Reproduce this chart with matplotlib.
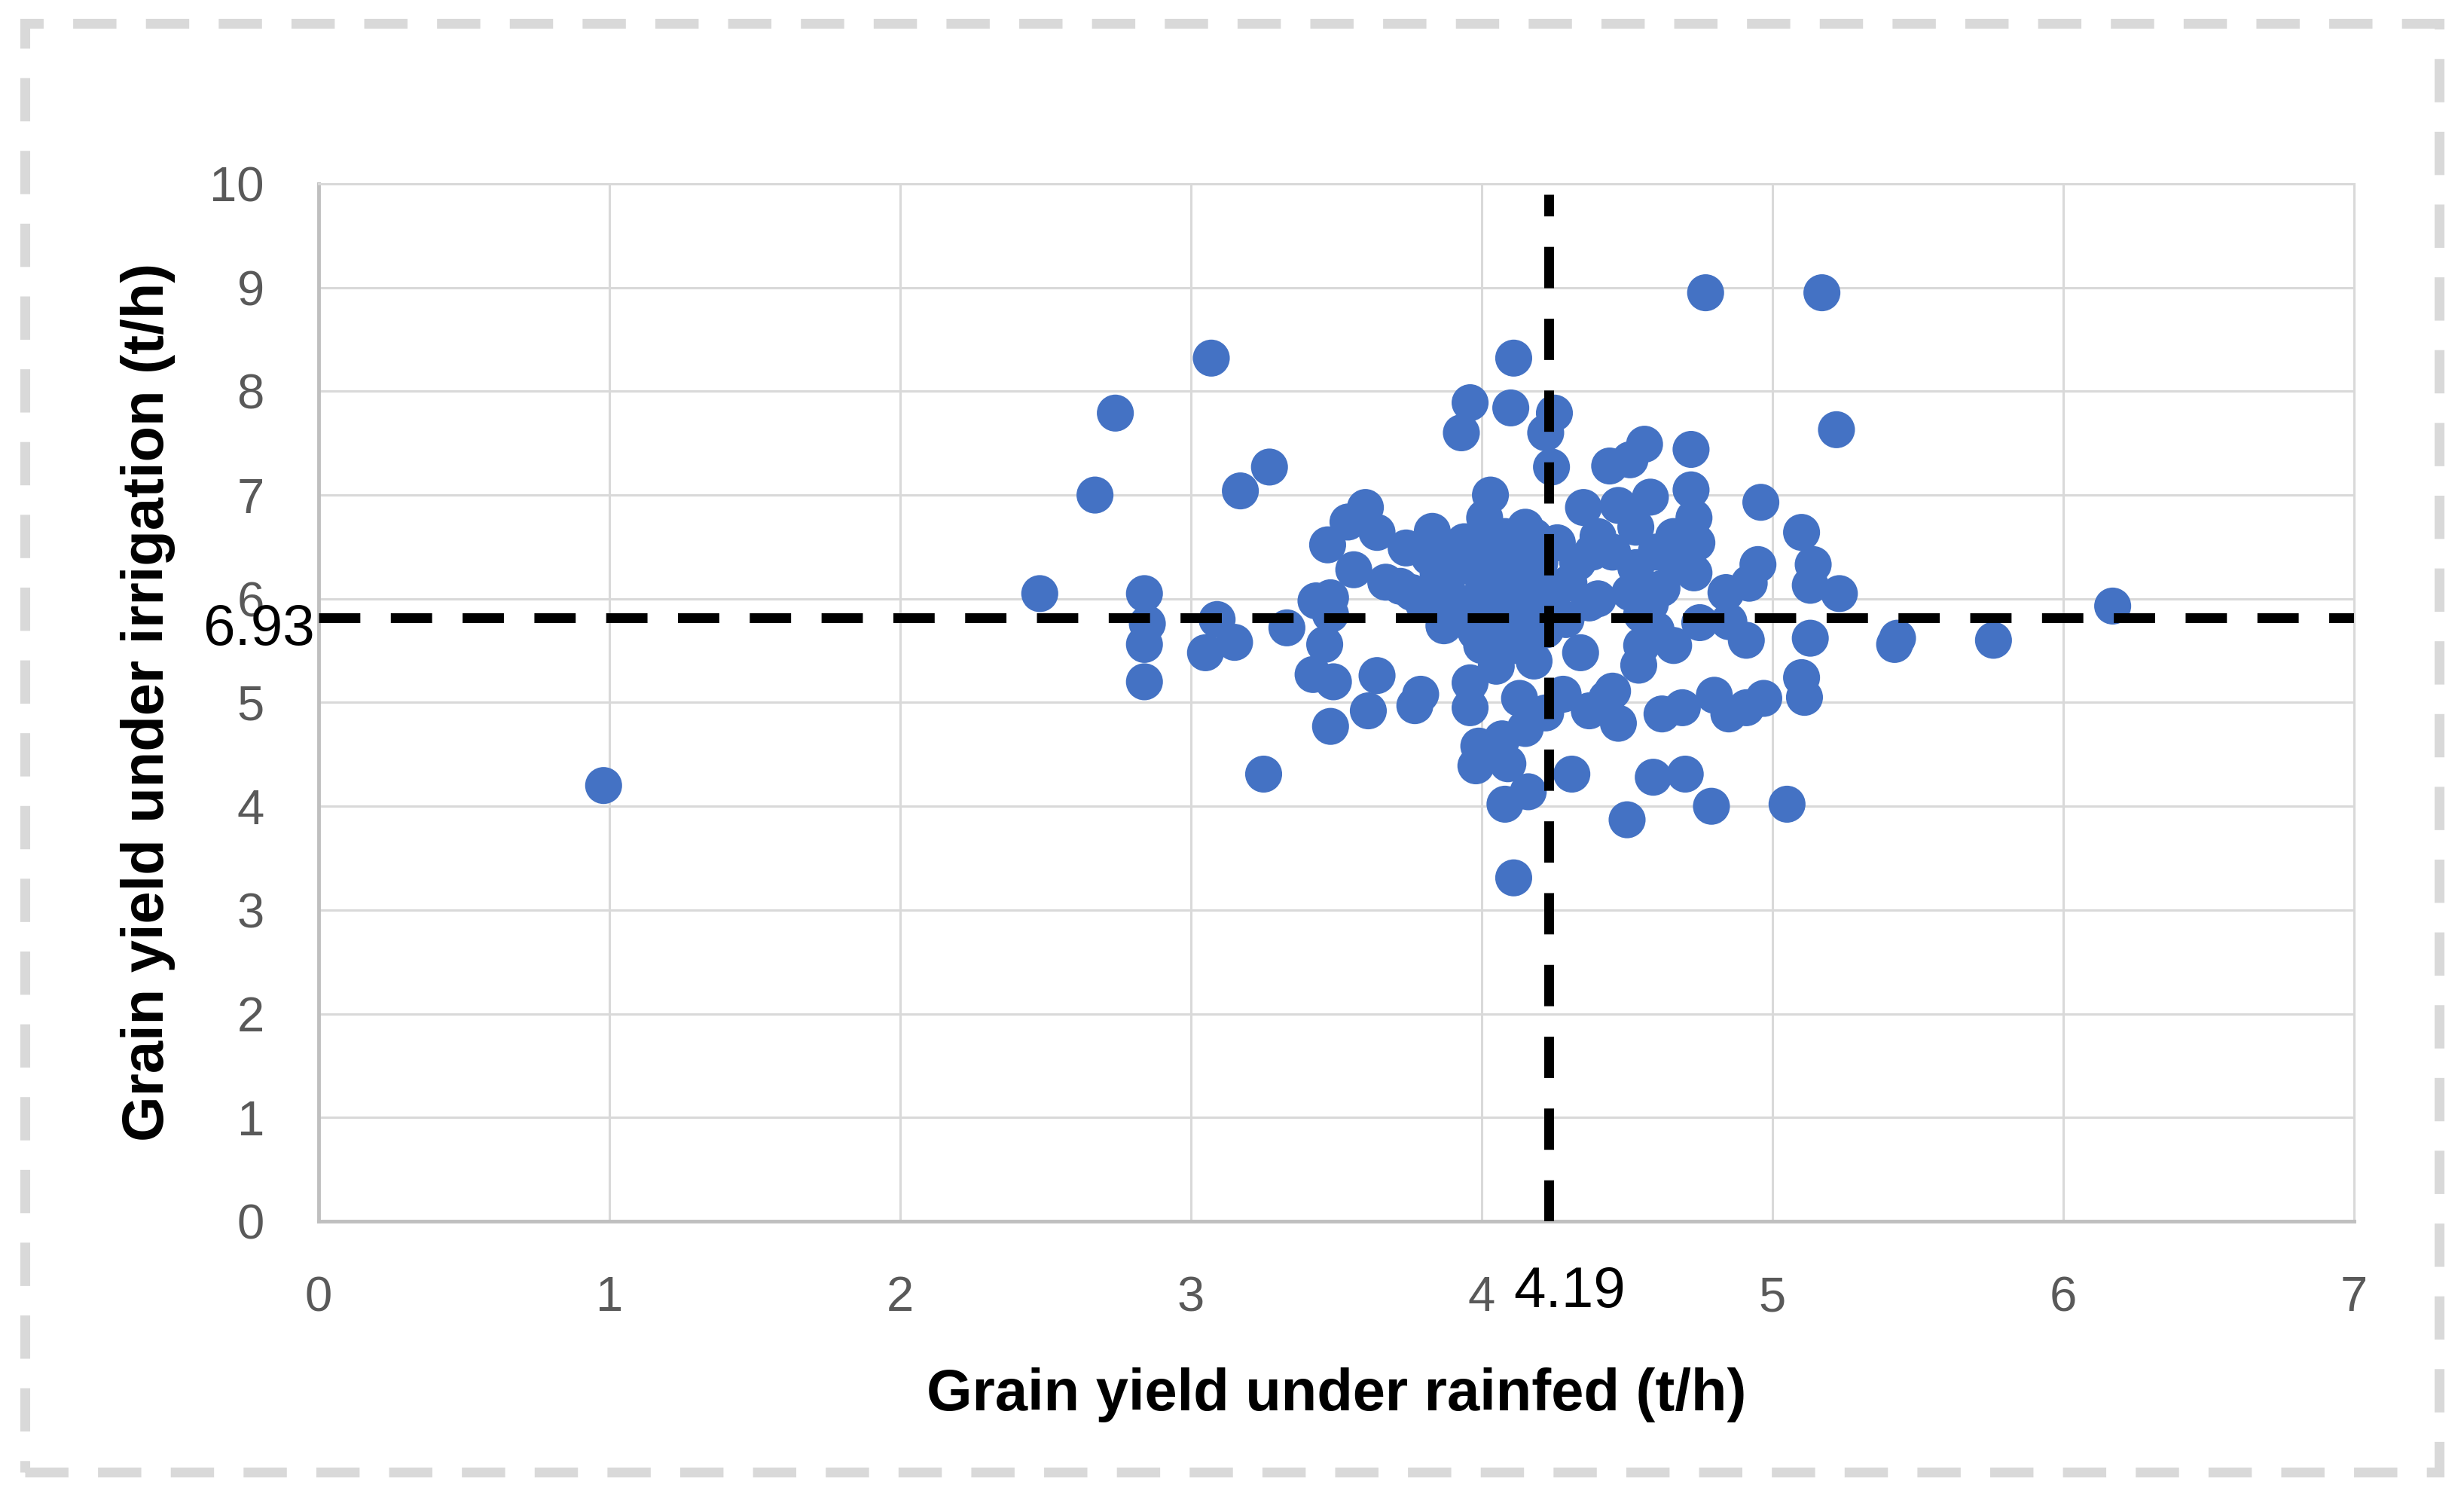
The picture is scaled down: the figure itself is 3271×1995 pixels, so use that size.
import matplotlib
matplotlib.use("Agg")
import matplotlib.pyplot as plt
from matplotlib.patches import Rectangle
import matplotlib.transforms as mtransforms

plt.rcParams['font.family'] = ['Liberation Sans', 'DejaVu Sans']

# ---- data ----
rainfed = [
    0.98, 2.48, 2.67, 2.74, 2.84, 2.85, 2.84, 2.84, 3.07, 3.05,
    3.09, 3.15, 3.17, 3.27, 3.25, 3.33, 3.43, 3.48, 3.46, 3.42,
    3.49, 3.48, 3.47, 3.54, 3.60, 3.64, 3.56, 3.48, 3.64, 3.61,
    3.77, 3.79, 3.67, 3.74, 3.76, 3.83, 3.85, 3.87, 3.80, 3.72,
    3.90, 3.93, 3.96, 4.10, 4.11, 4.03, 4.01, 4.05, 3.97, 4.08,
    4.15, 4.12, 4.18, 4.00, 4.10, 3.95, 4.05, 4.15, 4.20, 4.00,
    4.12, 4.18, 4.05, 3.96, 3.96, 4.13, 3.99, 3.98, 4.09, 4.15,
    4.07, 4.08, 4.16, 4.11, 4.22, 4.28, 4.31, 4.24, 4.25, 4.22,
    4.26, 4.35, 4.33, 4.37, 4.29, 4.34, 4.30, 4.40, 4.44, 4.51,
    4.56, 4.47, 4.58, 4.53, 4.45, 4.53, 4.51, 4.55, 4.43, 4.47,
    4.45, 4.37, 4.54, 4.59, 4.50, 4.62, 4.69, 4.66, 4.60, 4.70,
    4.72, 4.72, 4.73, 4.74, 4.66, 4.73, 4.66, 4.75, 4.84, 4.80,
    4.79, 4.77, 4.85, 4.85, 4.91, 4.91, 4.95, 4.96, 4.97, 4.92,
    5.05, 5.10, 5.11, 5.10, 5.13, 5.13, 5.14, 5.17, 5.22, 5.23,
    5.42, 5.43, 5.76, 6.17,
    3.88, 3.92, 4.02, 4.08, 4.13, 4.18, 4.22, 4.02, 4.06, 3.94,
    3.82, 4.16, 4.20, 4.10, 4.24, 3.98, 4.40, 4.38, 4.60, 4.62,
    4.58, 4.55,
]
irrigation = [
    4.20, 6.05, 7.00, 7.79, 6.05, 5.76, 5.56, 5.20, 8.32, 5.48,
    5.80, 5.58, 7.04, 7.27, 4.31, 5.72, 5.98, 5.85, 5.56, 5.27,
    5.20, 4.77, 6.52, 6.74, 6.88, 6.64, 6.28, 6.01, 5.26, 4.92,
    4.97, 5.08, 6.16, 6.49, 6.06, 6.65, 6.25, 5.74, 5.95, 6.12,
    6.40, 7.60, 7.89, 7.84, 8.32, 7.00, 6.78, 6.55, 6.30, 6.20,
    6.69, 6.45, 6.60, 6.05, 5.95, 5.85, 5.70, 5.85, 6.10, 5.55,
    5.55, 5.40, 5.35, 5.19, 4.95, 5.04, 4.58, 4.39, 4.41, 4.75,
    4.65, 4.02, 4.14, 3.31, 4.90, 5.08, 4.31, 7.27, 7.79, 7.60,
    6.54, 6.88, 6.35, 5.96, 5.80, 5.48, 6.15, 6.60, 7.28, 7.34,
    7.49, 6.90, 6.98, 6.69, 6.45, 6.30, 6.06, 5.85, 5.04, 4.80,
    5.11, 4.92, 5.36, 4.28, 3.87, 4.89, 4.95, 5.55, 5.70, 4.31,
    7.44, 7.05, 6.78, 6.54, 6.37, 6.25, 6.60, 5.77, 6.06, 5.07,
    4.00, 8.95, 4.89, 5.78, 5.60, 4.95, 6.33, 6.93, 5.04, 6.15,
    4.02, 5.24, 5.05, 6.64, 5.62, 6.13, 6.33, 8.95, 7.63, 6.05,
    5.56, 5.62, 5.60, 5.93,
    6.10, 5.95, 6.42, 6.60, 6.30, 6.00, 5.70, 5.85, 5.48, 6.55,
    6.40, 5.62, 6.35, 6.08, 5.95, 5.68, 6.00, 6.45, 6.45, 6.10,
    5.95, 5.55,
]
x_ticks = [0, 1, 2, 3, 4, 5, 6, 7]
y_ticks = [0, 1, 2, 3, 4, 5, 6, 7, 8, 9, 10]
mean_rainfed_pos = 4.23
mean_irrigation_pos = 5.82
mean_rainfed_label = "4.19"
mean_irrigation_label = "6.93"
x_label = "Grain yield under rainfed (t/h)"
y_label = "Grain yield under irrigation (t/h)"

W, H = 3271, 1995
fig = plt.figure(figsize=(W / 100, H / 100), dpi=100)
fig.patch.set_facecolor('white')

ax = fig.add_axes([423 / W, 1 - 1621 / H, (3125 - 423) / W, (1621 - 244) / H])
ax.set_xlim(0, 7)
ax.set_ylim(0, 10)
ax.set_xticks(x_ticks)
ax.set_yticks(y_ticks)

grid_col = '#D9D9D9'
ax.grid(True, color=grid_col, linewidth=2.2, zorder=0)
ax.set_axisbelow(True)
for s in ['top', 'right']:
    ax.spines[s].set_color(grid_col)
    ax.spines[s].set_linewidth(2.2)
for s in ['left', 'bottom']:
    ax.spines[s].set_color('#BFBFBF')
    ax.spines[s].set_linewidth(3.5)
ax.tick_params(axis='both', length=0, labelsize=47, labelcolor='#595959')
ax.tick_params(axis='x', pad=52)
ax.tick_params(axis='y', pad=52)

ax.scatter(rainfed, irrigation, s=1250, color='#4472C4', edgecolors='none',
           zorder=3, clip_on=False)

dash = (0, (4.2, 3.1))
ax.axhline(mean_irrigation_pos, color='black', linewidth=9.4, linestyle=dash, zorder=5)
ax.axvline(mean_rainfed_pos, ymin=0, ymax=0.99, color='black', linewidth=9.4,
           linestyle=dash, zorder=5)

# mean labels
trans_x = mtransforms.blended_transform_factory(ax.transData, fig.transFigure)
ax.text(4.11, 1 - 1715 / H, mean_rainfed_label, transform=trans_x, ha='left',
        va='center', fontsize=55, color='black', zorder=6)
trans_y = mtransforms.blended_transform_factory(fig.transFigure, ax.transData)
ax.text(418 / W, 5.70, mean_irrigation_label, transform=trans_y, ha='right',
        va='center', fontsize=55, color='black', zorder=6)

# axis titles
fig.text((423 + 3125) / 2 / W, 1 - 1852 / H, x_label, ha='center', va='center',
         fontsize=56, fontweight='bold', color='black')
fig.text(197 / W, 1 - 932 / H, y_label, ha='center', va='center', rotation=90,
         fontsize=56, fontweight='bold', color='black')

# dashed light-grey frame around the chart
frame = Rectangle((33 / W, 1 - 1954 / H), (3238 - 33) / W, (1954 - 31) / H,
                  transform=fig.transFigure, fill=False, edgecolor='#D9D9D9',
                  linewidth=9.4, linestyle=(0, (4.4, 3.0)), zorder=0)
fig.patches.append(frame)

fig.savefig('out.png', dpi=100, facecolor='white')
